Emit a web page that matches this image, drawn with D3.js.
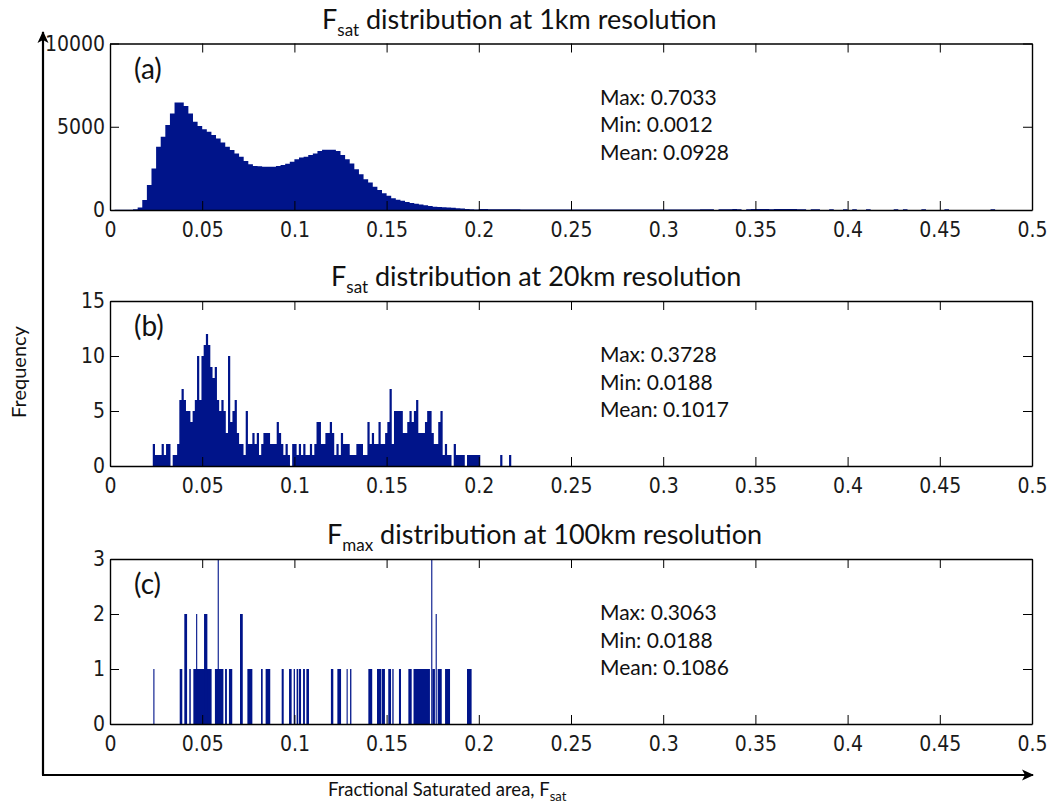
<!DOCTYPE html>
<html>
<head>
<meta charset="utf-8">
<script src="https://cdn.jsdelivr.net/npm/d3@7"></script>
<style>
	body { margin: 0; background: #fff; }
	svg { display: block; }
	.axis text { font-family: 'Liberation Sans Narrow', 'DejaVu Sans Condensed', sans-serif; font-size: 21px; fill: #1a1a1a; }
	.axis path, .axis line { stroke: #000; }
	.txt { font-family: Lato, 'Open Sans', sans-serif; fill: #111; }
</style>
</head>
<body>
<svg id="chart" width="1052" height="807"></svg>
<script>
// x ticks shared by all three panels
const xTicks = [0, 0.05, 0.1, 0.15, 0.2, 0.25, 0.3, 0.35, 0.4, 0.45, 0.5];

// (a) 1km: histogram counts, bins of 0.0025 from 0
const aBinWidth = 0.0025;
const aCounts = [
	0, 15, 15, 15, 20, 40, 150, 600, 1500, 2500,
	3800, 4400, 5100, 5800, 6450, 6450, 6250, 5800, 5300, 5050,
	4850, 4700, 4500, 4300, 4050, 3800, 3600, 3400, 3200, 2950,
	2750, 2650, 2630, 2600, 2600, 2600, 2650, 2700, 2780, 2900,
	3050, 3150, 3200, 3300, 3400, 3550, 3620, 3620, 3620, 3550,
	3300, 3050, 2800, 2450, 2150, 1850, 1650, 1400, 1200, 1000,
	850, 700, 620, 550, 480, 420, 380, 330, 280, 240,
	200, 180, 160, 150, 130, 110, 90, 60, 40, 30
];
// (a) sparse tail from 0.2 to 0.5
const aTail = [
	60, 55, 50, 50, 45, 45, 40, 40, 40, 35, 35, 35, 30, 30, 30, 30, 30, 30, 30, 30,
	30, 30, 30, 30, 30, 30, 30, 30, 30, 30, 30, 30, 30, 30, 30, 30, 30, 30, 30, 30,
	30, 30, 30, 30, 30, 30, 30, 30, 45, 45, 45, 0, 45, 45, 45, 60, 45, 0, 45, 60,
	60, 60, 60, 45, 60, 60, 60, 60, 60, 45, 45, 0, 45, 45, 0, 0, 45, 0, 0, 45,
	0, 45, 0, 0, 45, 0, 0, 0, 0, 0, 45, 0, 45, 0, 0, 0, 45, 0, 0, 0,
	0, 45, 0, 0, 0, 0, 0, 0, 0, 0, 0, 45, 0, 0, 0, 0, 0, 0, 0, 0
];
const aStats = ['Max: 0.7033', 'Min: 0.0012', 'Mean: 0.0928'];

// (b) 20km: histogram counts, bins of 0.0012 from 0.0232
const bStart = 0.0232;
const bBinWidth = 0.0012;
const bCounts = [
	2, 1, 1, 1, 2, 1, 2, 2, 0, 1,
	1, 2, 6, 7, 6, 5, 5, 4, 5, 6,
	10, 6, 10, 11, 12, 11, 9, 8, 9, 6,
	5, 6, 5, 3, 10, 4, 5, 6, 3, 2,
	2, 1, 5, 2, 2, 3, 2, 3, 1, 2,
	3, 3, 3, 2, 2, 2, 4, 3, 2, 1,
	2, 1, 0, 2, 2, 1, 2, 1, 2, 1,
	1, 2, 1, 2, 4, 4, 2, 2, 3, 3,
	4, 3, 1, 2, 1, 3, 2, 2, 2, 1,
	1, 1, 2, 2, 2, 1, 1, 4, 2, 3,
	2, 2, 4, 2, 2, 3, 4, 7, 2, 5,
	5, 5, 5, 3, 3, 4, 5, 4, 5, 6,
	3, 3, 3, 4, 5, 5, 3, 2, 2, 4,
	5, 1, 2, 1, 1, 0, 2, 1, 1, 1,
	1, 0, 1, 1, 1, 1, 1, 1, 0, 0,
	0, 0, 0, 0, 0, 0, 0, 1, 0, 0,
	0, 1
];
const bStats = ['Max: 0.3728', 'Min: 0.0188', 'Mean: 0.1017'];

// (c) 100km: runs of adjacent bins (start, end, count)
const cStart = [
	0.0235, 0.0378, 0.0403, 0.0430, 0.0452, 0.0467, 0.0510, 0.0569, 0.0584, 0.0624,
	0.0645, 0.0705, 0.0745, 0.0819, 0.0844, 0.0931, 0.0971, 0.0996, 0.1012, 0.1025,
	0.1047, 0.1065, 0.1198, 0.1233, 0.1283, 0.1302, 0.1401, 0.1448, 0.1473, 0.1509,
	0.1531, 0.1567, 0.1618, 0.1646, 0.1742, 0.1748, 0.1766, 0.1777, 0.1817, 0.1936
];
const cEnd = [
	0.0241, 0.0392, 0.0418, 0.0438, 0.0551, 0.0473, 0.0528, 0.0615, 0.0590, 0.0634,
	0.0663, 0.0720, 0.0772, 0.0828, 0.0869, 0.0942, 0.0985, 0.1003, 0.1021, 0.1036,
	0.1057, 0.1079, 0.1211, 0.1253, 0.1289, 0.1309, 0.1422, 0.1470, 0.1491, 0.1524,
	0.1538, 0.1578, 0.1636, 0.1735, 0.1748, 0.1762, 0.1772, 0.1799, 0.1844, 0.1961
];
const cCount = [
	1, 1, 2, 1, 1, 2, 2, 1, 3, 1,
	1, 2, 1, 1, 1, 1, 1, 1, 1, 1,
	1, 1, 1, 1, 1, 1, 1, 1, 1, 1,
	1, 1, 1, 1, 3, 1, 2, 1, 1, 1
];
const cStats = ['Max: 0.3063', 'Min: 0.0188', 'Mean: 0.1086'];

const BAR_COLOR = '#00148a';
const TICK = 9;

const $svg = d3.select('#chart');
const x = d3.scaleLinear().domain([0, 0.5]).range([110, 1032]);
const fmtX = d => (d === 0 ? '0' : d3.format('.2~f')(d));
const fmtY = d => String(d);

const panels = [
	{
		label: '(a)', sub: 'sat', rest: ' distribution at 1km resolution', titleX: 322,
		top: 43.5, bottom: 210, yMax: 10000, yTicks: [0, 5000, 10000], stats: aStats,
		bins: aCounts.concat(aTail).map((c, i) => ({ x: i * aBinWidth, y: c })),
		end: (aCounts.length + aTail.length) * aBinWidth
	},
	{
		label: '(b)', sub: 'sat', rest: ' distribution at 20km resolution', titleX: 331,
		top: 301, bottom: 466, yMax: 15, yTicks: [0, 5, 10, 15], stats: bStats,
		bins: bCounts.map((c, i) => ({ x: bStart + i * bBinWidth, y: c })),
		end: bStart + bCounts.length * bBinWidth
	},
	{
		label: '(c)', sub: 'max', rest: ' distribution at 100km resolution', titleX: 327,
		top: 559, bottom: 724, yMax: 3, yTicks: [0, 1, 2, 3], stats: cStats,
		runs: cStart.map((s, i) => ({ x0: s, x1: cEnd[i], y: cCount[i] }))
	}
];

panels.forEach(p => {
	const y = d3.scaleLinear().domain([0, p.yMax]).range([p.bottom, p.top]);
	const $g = $svg.append('g').attr('class', 'panel');

	// bars
	if (p.bins) {
		const pts = p.bins.concat([{ x: p.end, y: 0 }]);
		const area = d3.area()
			.x(d => x(d.x))
			.y0(y(0))
			.y1(d => y(d.y))
			.curve(d3.curveStepAfter);
		$g.append('path').datum(pts).attr('d', area).attr('fill', BAR_COLOR);
	} else {
		$g.selectAll('rect.bar')
			.data(p.runs)
			.join('rect')
			.attr('class', 'bar')
			.attr('x', d => x(d.x0))
			.attr('width', d => Math.max(1, x(d.x1) - x(d.x0)))
			.attr('y', d => y(d.y))
			.attr('height', d => y(0) - y(d.y))
			.attr('fill', BAR_COLOR);
	}

	// box with inward ticks
	const axes = [
		[d3.axisBottom(x).tickValues(xTicks).tickFormat(fmtX).tickPadding(12), p.bottom, 0],
		[d3.axisTop(x).tickValues(xTicks).tickFormat(''), p.top, 0],
		[d3.axisLeft(y).tickValues(p.yTicks).tickFormat(fmtY).tickPadding(5), 0, 110],
		[d3.axisRight(y).tickValues(p.yTicks).tickFormat(''), 0, 1032]
	];
	axes.forEach(([ax, ty, tx]) => {
		const $a = $g.append('g')
			.attr('class', 'axis')
			.attr('transform', `translate(${tx},${ty})`)
			.call(ax.tickSizeInner(-TICK).tickSizeOuter(0));
		$a.attr('font-size', null).attr('font-family', null);
		$a.select('.domain').attr('stroke-width', 1.4);
	});

	// title
	const $t = $svg.append('text')
		.attr('class', 'txt')
		.attr('x', p.titleX)
		.attr('y', p.top - 15)
		.style('font-size', '27px');
	$t.append('tspan').text('F');
	$t.append('tspan').attr('dy', 7).style('font-size', '17px').text(p.sub);
	$t.append('tspan').attr('dy', -7).text(p.rest);

	// panel letter
	$svg.append('text')
		.attr('class', 'txt')
		.attr('x', 134)
		.attr('y', p.top + 35)
		.style('font-size', '28px')
		.text(p.label);

	// summary stats
	$svg.selectAll(null)
		.data(p.stats)
		.join('text')
		.attr('class', 'txt')
		.attr('x', 600)
		.attr('y', (d, i) => p.top + 61 + i * 27.5)
		.style('font-size', '21px')
		.text(d => d);
});

// outer arrows
const $defs = $svg.append('defs');
$defs.append('marker')
	.attr('id', 'arrow')
	.attr('viewBox', '0 -6 12 12')
	.attr('refX', 11)
	.attr('refY', 0)
	.attr('markerWidth', 12)
	.attr('markerHeight', 12)
	.attr('markerUnits', 'userSpaceOnUse')
	.attr('orient', 'auto')
	.append('path')
	.attr('d', 'M0,-5.5L12,0L0,5.5L3,0Z')
	.attr('fill', '#000');

$svg.append('line')
	.attr('x1', 43).attr('y1', 775).attr('x2', 43).attr('y2', 32)
	.attr('stroke', '#000').attr('stroke-width', 2.2)
	.attr('marker-end', 'url(#arrow)');
$svg.append('line')
	.attr('x1', 42).attr('y1', 775).attr('x2', 1033).attr('y2', 775)
	.attr('stroke', '#000').attr('stroke-width', 2.2)
	.attr('marker-end', 'url(#arrow)');

$svg.append('text')
	.attr('class', 'txt')
	.attr('transform', 'translate(26,372) rotate(-90)')
	.attr('text-anchor', 'middle')
	.style('font-size', '20px')
	.text('Frequency');

const $xl = $svg.append('text')
	.attr('class', 'txt')
	.attr('x', 328)
	.attr('y', 796)
	.style('font-size', '18.5px');
$xl.append('tspan').text('Fractional Saturated area, F');
$xl.append('tspan').attr('dy', 5).style('font-size', '13px').text('sat');
</script>
</body>
</html>
